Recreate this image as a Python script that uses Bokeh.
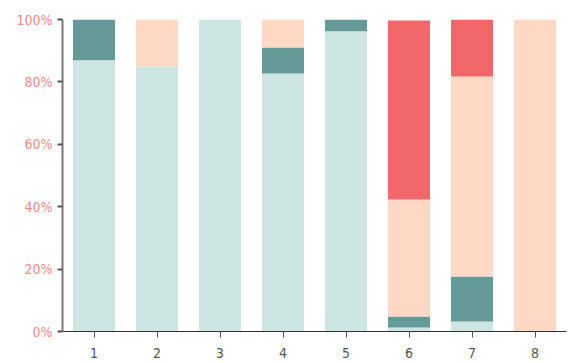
from bokeh.plotting import figure
from bokeh.models import ColumnDataSource, Range1d, FixedTicker, NumeralTickFormatter
from bokeh.embed import file_html
from bokeh.resources import INLINE

categories = [1, 2, 3, 4, 5, 6, 7, 8]
s_light = [0.869, 0.850, 1.000, 0.827, 0.962, 0.013, 0.032, 0.000]
s_dark = [0.131, 0.000, 0.000, 0.083, 0.038, 0.035, 0.144, 0.000]
s_peach = [0.000, 0.150, 0.000, 0.090, 0.000, 0.375, 0.641, 1.000]
s_red = [0.000, 0.000, 0.000, 0.000, 0.000, 0.574, 0.183, 0.000]
y_ticks = [0, 0.2, 0.4, 0.6, 0.8, 1.0]

series = ["light", "dark", "peach", "red"]
colors = ["#cde6e3", "#669a98", "#fdd8c5", "#f2686a"]

src = ColumnDataSource(dict(x=categories, light=s_light, dark=s_dark, peach=s_peach, red=s_red))

p = figure(width=569, height=363, output_backend="svg", toolbar_location=None,
           x_range=Range1d(0.5, 8.5), y_range=Range1d(0, 1))
p.min_border_left = 62
p.min_border_right = 3
p.min_border_top = 19
p.min_border_bottom = 32
p.outline_line_color = None
p.xgrid.grid_line_color = None
p.ygrid.grid_line_color = None

p.vbar_stack(series, x="x", width=0.667, color=colors, source=src, line_color=None)

font = "'DejaVu Sans Condensed', 'Roboto Condensed', 'Open Sans'"
p.yaxis.ticker = FixedTicker(ticks=y_ticks)
p.yaxis.formatter = NumeralTickFormatter(format="0%")
p.yaxis.major_label_text_color = "#f58b8b"
p.yaxis.major_label_text_font = font
p.yaxis.major_label_text_font_size = "14px"
p.yaxis.axis_line_color = "#777777"
p.yaxis.axis_line_width = 2
p.yaxis.major_tick_line_color = "#555555"
p.yaxis.major_tick_line_width = 2
p.yaxis.major_tick_out = 5
p.yaxis.major_tick_in = 0
p.yaxis.minor_tick_line_color = None

p.xaxis.ticker = FixedTicker(ticks=categories)
p.xaxis.major_label_text_color = "#555555"
p.xaxis.major_label_text_font = font
p.xaxis.major_label_text_font_size = "14px"
p.xaxis.major_label_standoff = 10
p.xaxis.axis_line_color = "#333333"
p.xaxis.axis_line_width = 1
p.xaxis.major_tick_line_color = "#555555"
p.xaxis.major_tick_out = 6
p.xaxis.major_tick_in = 0
p.xaxis.minor_tick_line_color = None

open("out.html", "w").write(file_html(p, INLINE))
